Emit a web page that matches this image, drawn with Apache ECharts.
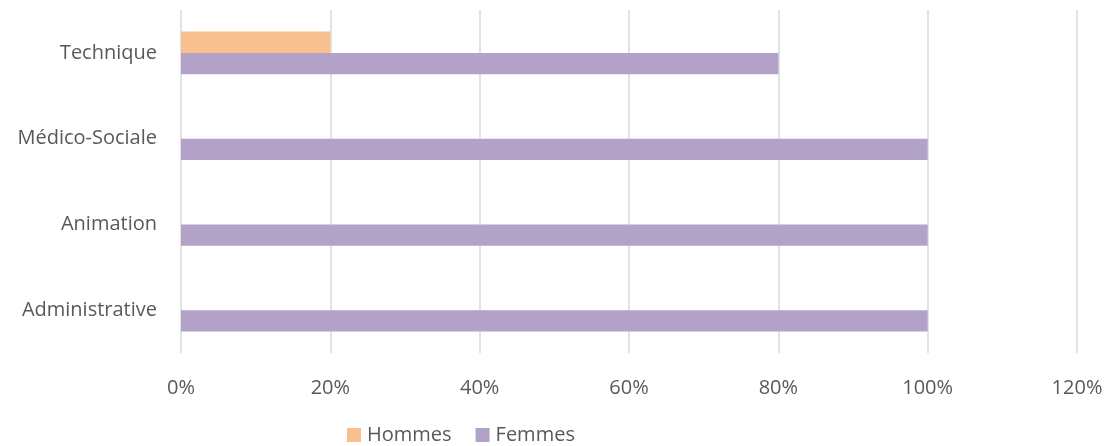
<!DOCTYPE html>
<html><head><meta charset="utf-8">
<script src="https://cdn.jsdelivr.net/npm/echarts@6/dist/echarts.min.js"></script>
<style>html,body{margin:0;padding:0;background:#fff}#c{width:1106px;height:446px}</style>
</head><body><div id="c"></div>
<script>
const categories = ['Administrative', 'Animation', 'Médico-Sociale', 'Technique'];
const hommes = [0, 0, 0, 0.2];
const femmes = [1, 1, 1, 0.8];
const xTicks = [0, 0.2, 0.4, 0.6, 0.8, 1.0, 1.2];

const font = 'Open Sans';
const chart = echarts.init(document.getElementById('c'));
chart.setOption({
  animation: false,
  grid: {left: 181, right: 29, top: 10, bottom: 93, containLabel: false},
  legend: {
    data: ['Hommes', 'Femmes'],
    left: 347, top: 425, padding: 0, itemWidth: 14, itemHeight: 14, itemGap: 24,
    icon: 'rect',
    textStyle: {fontFamily: font, fontSize: 20, color: '#595959', padding: [0, 0, 0, 1]}
  },
  xAxis: {
    type: 'value', min: 0, max: 1.2, interval: 0.2,
    axisLine: {show: false}, axisTick: {show: false},
    splitLine: {lineStyle: {color: '#d9d9d9', width: 1.5}},
    axisLabel: {fontFamily: font, fontSize: 20, color: '#595959', margin: 25,
      formatter: v => Math.round(v * 100) + '%'}
  },
  yAxis: {
    type: 'category', data: categories,
    axisLine: {show: false}, axisTick: {show: false},
    axisLabel: {fontFamily: font, fontSize: 20, color: '#595959', margin: 24, padding: [6, 0, 0, 0]}
  },
  series: [
    {name: 'Hommes', type: 'bar', data: hommes, itemStyle: {color: '#F9C08F'},
      barGap: '0%', barCategoryGap: '50%'},
    {name: 'Femmes', type: 'bar', data: femmes, itemStyle: {color: '#B3A2C7'},
      barGap: '0%', barCategoryGap: '50%'}
  ]
});
</script></body></html>
